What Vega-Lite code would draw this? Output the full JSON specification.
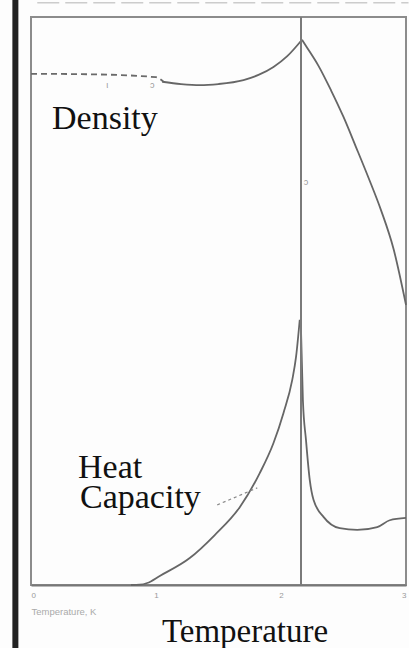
{
  "$schema": "https://vega.github.io/schema/vega-lite/v6.json",
  "width": 375,
  "height": 568,
  "autosize": {"type": "none"},
  "padding": {"left": 31, "top": 17, "right": 3, "bottom": 63},
  "background": "#fdfdfd",
  "config": {"view": {"stroke": "#8c8c8c", "strokeWidth": 2}},
  "datasets": {
    "curves": [
      {"s": "dens_dash", "T": 0.0, "v": 90.0},
      {"s": "dens_dash", "T": 0.5, "v": 89.9},
      {"s": "dens_dash", "T": 1.0, "v": 89.4},
      {"s": "dens_dash", "T": 1.06, "v": 88.6},
      {"s": "dens", "T": 1.05, "v": 88.6},
      {"s": "dens", "T": 1.2, "v": 88.2},
      {"s": "dens", "T": 1.35, "v": 88.0},
      {"s": "dens", "T": 1.5, "v": 88.2},
      {"s": "dens", "T": 1.7, "v": 88.9},
      {"s": "dens", "T": 1.82, "v": 89.8},
      {"s": "dens", "T": 1.94, "v": 91.2},
      {"s": "dens", "T": 2.05, "v": 93.1},
      {"s": "dens", "T": 2.168, "v": 96.0},
      {"s": "densR", "T": 2.168, "v": 96.0},
      {"s": "densR", "T": 2.2, "v": 94.9},
      {"s": "densR", "T": 2.3, "v": 91.4},
      {"s": "densR", "T": 2.4, "v": 87.1},
      {"s": "densR", "T": 2.5, "v": 82.4},
      {"s": "densR", "T": 2.6, "v": 77.1},
      {"s": "densR", "T": 2.7, "v": 71.7},
      {"s": "densR", "T": 2.8, "v": 66.0},
      {"s": "densR", "T": 2.9, "v": 59.2},
      {"s": "densR", "T": 3.0, "v": 49.3},
      {"s": "heatL", "T": 0.8, "v": 0.0},
      {"s": "heatL", "T": 0.87, "v": 0.05},
      {"s": "heatL", "T": 0.93, "v": 0.35},
      {"s": "heatL", "T": 1.03, "v": 1.6},
      {"s": "heatL", "T": 1.27, "v": 4.75},
      {"s": "heatL", "T": 1.47, "v": 8.8},
      {"s": "heatL", "T": 1.67, "v": 13.7},
      {"s": "heatL", "T": 1.83, "v": 19.7},
      {"s": "heatL", "T": 1.94, "v": 25.0},
      {"s": "heatL", "T": 2.02, "v": 30.3},
      {"s": "heatL", "T": 2.09, "v": 36.1},
      {"s": "heatL", "T": 2.12, "v": 40.1},
      {"s": "heatL", "T": 2.15, "v": 46.7},
      {"s": "heatR", "T": 2.16, "v": 44.9},
      {"s": "heatR", "T": 2.175, "v": 32.6},
      {"s": "heatR", "T": 2.2, "v": 25.5},
      {"s": "heatR", "T": 2.23, "v": 18.5},
      {"s": "heatR", "T": 2.26, "v": 15.0},
      {"s": "heatR", "T": 2.34, "v": 12.0},
      {"s": "heatR", "T": 2.47, "v": 10.0},
      {"s": "heatR", "T": 2.61, "v": 9.7},
      {"s": "heatR", "T": 2.77, "v": 10.2},
      {"s": "heatR", "T": 2.87, "v": 11.4},
      {"s": "heatR", "T": 3.0, "v": 11.8},
      {"s": "leader", "T": 1.49, "v": 14.1},
      {"s": "leader", "T": 1.81, "v": 17.1}
    ],
    "labels": [
      {"label": "Density", "T": 0.168, "v": 80.3, "kind": "curve"},
      {"label": "Heat", "T": 0.376, "v": 18.8, "kind": "curve"},
      {"label": "Capacity", "T": 0.392, "v": 13.6, "kind": "curve"},
      {"label": "Temperature", "T": 1.712, "v": -10.0, "kind": "axis"}
    ],
    "marks": [
      {"label": "ι", "T": 0.61, "v": 88.0},
      {"label": "ɔ", "T": 0.97, "v": 88.0},
      {"label": "ɔ", "T": 2.2, "v": 71.0}
    ],
    "refs": [
      {"kind": "lambda", "x": 2.16, "y": 0, "y2": 100},
      {"kind": "edge", "x": -0.125, "y": -12, "y2": 104}
    ],
    "top": [
      {"y": 102.5, "x": 0.05, "x2": 3.02}
    ]
  },
  "layer": [
    {
      "data": {"name": "curves"},
      "transform": [{"filter": "datum.s === 'dens_dash'"}],
      "mark": {"type": "line", "color": "#6a6a6a", "strokeWidth": 1.8, "strokeDash": [6, 4], "interpolate": "monotone"},
      "encoding": {
        "x": {
          "field": "T", "type": "quantitative",
          "scale": {"domain": [0, 3], "nice": false, "zero": false},
          "axis": {
            "values": [0, 1, 2, 3],
            "format": "d",
            "grid": false,
            "ticks": false,
            "labelFlush": true,
            "labelFontSize": 8,
            "labelColor": "#9a9a9a",
            "labelPadding": 6,
            "domainColor": "#777777",
            "domainWidth": 2,
            "title": "Temperature, K",
            "titleFontSize": 9.5,
            "titleColor": "#aaaaaa",
            "titleFontWeight": "normal",
            "titleAnchor": "start",
            "titlePadding": 7
          }
        },
        "y": {
          "field": "v", "type": "quantitative",
          "scale": {"domain": [0, 100], "nice": false, "zero": false},
          "axis": null
        }
      }
    },
    {
      "data": {"name": "curves"},
      "transform": [{"filter": "datum.s === 'dens' || datum.s === 'densR' || datum.s === 'heatL' || datum.s === 'heatR'"}],
      "mark": {"type": "line", "color": "#666666", "strokeWidth": 1.8, "interpolate": "monotone"},
      "encoding": {
        "x": {"field": "T", "type": "quantitative"},
        "y": {"field": "v", "type": "quantitative"},
        "detail": {"field": "s"}
      }
    },
    {
      "data": {"name": "curves"},
      "transform": [{"filter": "datum.s === 'leader'"}],
      "mark": {"type": "line", "color": "#888888", "strokeWidth": 1.2, "strokeDash": [3, 3]},
      "encoding": {
        "x": {"field": "T", "type": "quantitative"},
        "y": {"field": "v", "type": "quantitative"}
      }
    },
    {
      "data": {"name": "refs"},
      "transform": [{"filter": "datum.kind === 'lambda'"}],
      "mark": {"type": "rule", "color": "#7a7a7a", "strokeWidth": 2},
      "encoding": {
        "x": {"field": "x", "type": "quantitative"},
        "y": {"field": "y", "type": "quantitative"},
        "y2": {"field": "y2"}
      }
    },
    {
      "data": {"name": "refs"},
      "transform": [{"filter": "datum.kind === 'edge'"}],
      "mark": {"type": "rule", "color": "#222222", "strokeWidth": 6, "clip": false},
      "encoding": {
        "x": {"field": "x", "type": "quantitative"},
        "y": {"field": "y", "type": "quantitative"},
        "y2": {"field": "y2"}
      }
    },
    {
      "data": {"name": "top"},
      "mark": {"type": "rule", "color": "#cccccc", "strokeWidth": 1.5, "strokeDash": [22, 6], "clip": false},
      "encoding": {
        "y": {"field": "y", "type": "quantitative"},
        "x": {"field": "x", "type": "quantitative"},
        "x2": {"field": "x2"}
      }
    },
    {
      "data": {"name": "labels"},
      "transform": [{"filter": "datum.kind === 'curve'"}],
      "mark": {"type": "text", "font": "Liberation Serif", "fontSize": 34, "align": "left", "baseline": "alphabetic", "color": "#111111"},
      "encoding": {
        "x": {"field": "T", "type": "quantitative"},
        "y": {"field": "v", "type": "quantitative"},
        "text": {"field": "label"}
      }
    },
    {
      "data": {"name": "labels"},
      "transform": [{"filter": "datum.kind === 'axis'"}],
      "mark": {"type": "text", "font": "Liberation Serif", "fontSize": 33, "align": "center", "baseline": "alphabetic", "color": "#111111", "clip": false},
      "encoding": {
        "x": {"field": "T", "type": "quantitative"},
        "y": {"field": "v", "type": "quantitative"},
        "text": {"field": "label"}
      }
    },
    {
      "data": {"name": "marks"},
      "mark": {"type": "text", "fontSize": 9, "align": "center", "baseline": "middle", "color": "#999999"},
      "encoding": {
        "x": {"field": "T", "type": "quantitative"},
        "y": {"field": "v", "type": "quantitative"},
        "text": {"field": "label"}
      }
    }
  ]
}
